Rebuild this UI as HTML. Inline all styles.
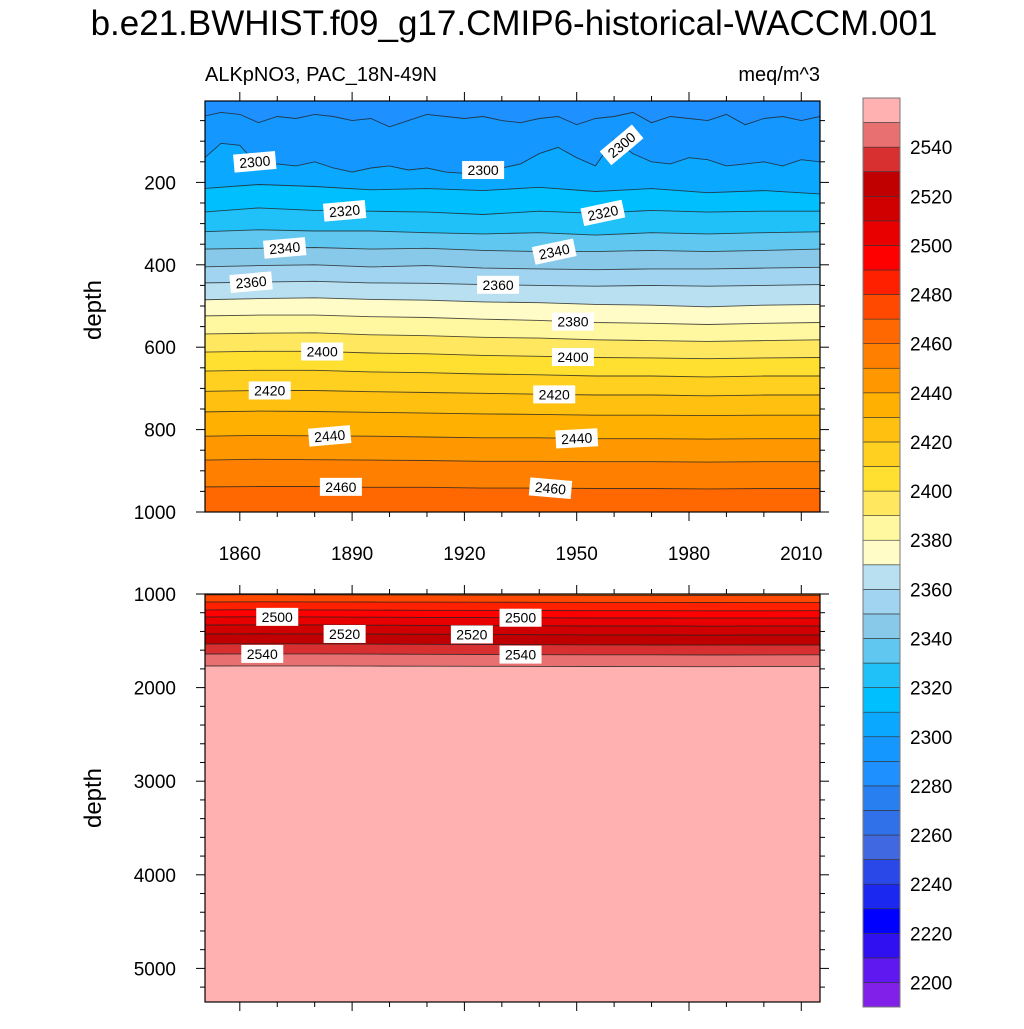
<!DOCTYPE html>
<html><head><meta charset="utf-8"><style>
body{margin:0;background:#fff}
svg text{font-family:"Liberation Sans",sans-serif;fill:#000}
</style></head><body>
<svg id="chart" width="1024" height="1024" viewBox="0 0 1024 1024" xmlns="http://www.w3.org/2000/svg">
<text x="514" y="35" font-size="35" text-anchor="middle">b.e21.BWHIST.f09_g17.CMIP6-historical-WACCM.001</text>
<text x="205" y="81" font-size="20">ALKpNO3, PAC_18N-49N</text>
<text x="820" y="81" font-size="20" text-anchor="end">meq/m^3</text>
<text transform="translate(101,310) rotate(-90)" font-size="24" text-anchor="middle">depth</text>
<text transform="translate(101,798) rotate(-90)" font-size="24" text-anchor="middle">depth</text>
<defs>
<clipPath id="ct"><rect x="205" y="101" width="615" height="411"/></clipPath>
<clipPath id="cb"><rect x="205" y="594" width="615" height="408"/></clipPath>
</defs>
<g id="topPanel"></g>
<g id="botPanel"></g>
<g id="cbar"></g>
</svg>
<script>
// ---- data ----
const levelsCB = [2190,2200,2210,2220,2230,2240,2250,2260,2270,2280,2290,2300,2310,2320,2330,2340,2350,2360,2370,2380,2390,2400,2410,2420,2430,2440,2450,2460,2470,2480,2490,2500,2510,2520,2530,2540,2550,2560];
const bandColors = ["#8020e8","#6018f0","#3010f0","#0000ff","#1a28f0","#2a48e8","#4068e0","#3070e8","#2880f0","#1e90ff","#1498ff","#0aa8ff","#00bfff","#20c0f8","#60c8f0","#88c8e8","#a0d4f0","#b8e0f0","#fffcc8","#fff8a0","#ffe860","#ffe030","#ffd020","#ffc010","#ffb000","#ff9800","#ff8000","#ff6800","#ff4800","#ff2000","#ff0000","#e80000","#d00000","#c00000","#d83030","#e87070","#ffb0b0"];
const cbLabels = [2200,2220,2240,2260,2280,2300,2320,2340,2360,2380,2400,2420,2440,2460,2480,2500,2520,2540];
const yearsFine = [1850,1855,1860,1865,1870,1875,1880,1885,1890,1895,1900,1905,1910,1915,1920,1925,1930,1935,1940,1945,1950,1955,1960,1965,1970,1975,1980,1985,1990,1995,2000,2005,2010,2015];
const yearsCoarse = [1850,1865,1880,1895,1910,1925,1940,1955,1970,1985,2000,2015];
const depth2290 = [40,30,35,55,40,45,35,40,50,45,65,50,35,40,45,40,50,55,45,40,60,45,40,30,55,40,45,50,35,60,45,40,50,40];
const depth2300 = [145,105,110,160,155,160,150,165,175,165,160,170,165,175,178,170,165,155,130,115,140,160,95,130,150,155,140,145,160,155,150,160,145,150];
const depth2310 = [215,205,210,218,215,220,212,222,215,225,220,228];
const depth2320 = [272,262,268,270,272,278,270,275,268,272,270,270];
const depth2330 = [320,315,318,318,322,325,322,328,322,325,322,320];
const depth2340 = [362,360,358,362,360,365,368,368,365,368,365,362];
const depth2350 = [405,402,400,405,402,408,410,412,410,410,408,406];
const depth2360 = [444,442,440,444,445,448,450,452,450,452,450,448];
const depth2370 = [485,482,480,484,486,490,492,496,498,502,498,496];
const depth2380 = [524,522,522,526,528,532,535,540,542,545,542,540];
const depth2390 = [568,566,565,570,572,576,578,582,584,586,584,582];
const depth2400 = [612,610,610,614,616,620,622,625,626,628,626,625];
const depth2410 = [658,656,656,660,662,665,667,670,670,672,670,670];
const depth2420 = [707,705,705,708,710,712,714,716,716,718,716,716];
const depth2430 = [757,755,756,758,760,762,763,765,765,766,765,765];
const depth2440 = [816,814,815,816,818,820,820,822,822,823,822,822];
const depth2450 = [874,872,873,874,875,877,877,878,878,879,878,878];
const depth2460 = [939,938,938,940,940,942,942,943,943,944,943,943];
const depth2470 = [1010,1008,1010,1012,1012,1014,1014,1015,1015,1016,1015,1015];
const depth2480 = [1085,1083,1084,1086,1087,1088,1089,1090,1090,1091,1090,1090];
const depth2490 = [1171,1168,1170,1172,1174,1175,1176,1178,1178,1180,1179,1178];
const depth2500 = [1246,1244,1245,1248,1250,1252,1254,1256,1256,1258,1257,1256];
const depth2510 = [1331,1330,1330,1333,1335,1338,1340,1342,1342,1344,1343,1342];
const depth2520 = [1427,1425,1426,1428,1430,1433,1435,1437,1438,1440,1438,1438];
const depth2530 = [1534,1532,1533,1535,1537,1540,1542,1544,1545,1546,1545,1545];
const depth2540 = [1641,1640,1640,1642,1644,1646,1648,1650,1650,1652,1651,1650];
const depth2550 = [1769,1768,1768,1770,1771,1772,1774,1775,1776,1777,1776,1776];
const topTicks = [200,400,600,800,1000];
const botTicks = [1000,2000,3000,4000,5000];
const xTicks = [1860,1890,1920,1950,1980,2010];
// ---- setup ----
const NS="http://www.w3.org/2000/svg";
function mk(tag,attrs,parent){const e=document.createElementNS(NS,tag);for(const k in attrs)e.setAttribute(k,attrs[k]);parent.appendChild(e);return e;}
const X0=205,X1=820,Y0=1850.7,Y1=2015;
const xs=y=>X0+(y-Y0)/(Y1-Y0)*(X1-X0);
const ysTop=d=>100+d*0.412;
const ysBot=d=>594+(d-1000)*0.0936;
const lines=[
 [2290,yearsFine,depth2290],[2300,yearsFine,depth2300],[2310,yearsCoarse,depth2310],[2320,yearsCoarse,depth2320],
 [2330,yearsCoarse,depth2330],[2340,yearsCoarse,depth2340],[2350,yearsCoarse,depth2350],[2360,yearsCoarse,depth2360],
 [2370,yearsCoarse,depth2370],[2380,yearsCoarse,depth2380],[2390,yearsCoarse,depth2390],[2400,yearsCoarse,depth2400],
 [2410,yearsCoarse,depth2410],[2420,yearsCoarse,depth2420],[2430,yearsCoarse,depth2430],[2440,yearsCoarse,depth2440],
 [2450,yearsCoarse,depth2450],[2460,yearsCoarse,depth2460],[2470,yearsCoarse,depth2470],[2480,yearsCoarse,depth2480],
 [2490,yearsCoarse,depth2490],[2500,yearsCoarse,depth2500],[2510,yearsCoarse,depth2510],[2520,yearsCoarse,depth2520],
 [2530,yearsCoarse,depth2530],[2540,yearsCoarse,depth2540],[2550,yearsCoarse,depth2550]];
const colorAbove=l=>bandColors[levelsCB.indexOf(l)];
function depthAt(yrs,ds,yr){for(let i=0;i<yrs.length-1;i++){if(yr<=yrs[i+1]){const t=(yr-yrs[i])/(yrs[i+1]-yrs[i]);return ds[i]+t*(ds[i+1]-ds[i]);}}return ds[ds.length-1];}
function panel(g,clip,ys,yTop,yBot){
 const cg=mk('g',{'clip-path':'url(#'+clip+')'},g);
 const bg=mk('rect',{x:X0,y:yTop,width:X1-X0,height:yBot-yTop,fill:colorAbove(lines[0][0]-10)},cg);
 
 
 lines.forEach(([lv,yrs,ds])=>{
  const pts=yrs.map((y,i)=>xs(y).toFixed(1)+','+ys(ds[i]).toFixed(1));
  const poly=mk('polygon',{points:pts.join(' ')+' '+xs(yrs[yrs.length-1])+','+(yBot+5)+' '+xs(yrs[0])+','+(yBot+5),fill:colorAbove(lv)},cg);
  
  
 });
 lines.forEach(([lv,yrs,ds])=>{
  const pl=mk('polyline',{points:yrs.map((y,i)=>xs(y).toFixed(1)+','+ys(ds[i]).toFixed(1)).join(' '),fill:'none',stroke:'#222','stroke-width':0.9,'stroke-opacity':0.8},cg);
  
  
 });
 const fr=mk('rect',{x:X0,y:yTop,width:X1-X0,height:yBot-yTop,fill:'none',stroke:'#000','stroke-width':1.2},g);
 
 
 for(let yr=1860;yr<=2010;yr+=10){
  const L=(yr-1860)%30===0?9:5;
  mk('line',{x1:xs(yr),x2:xs(yr),y1:yTop,y2:yTop-L,stroke:'#000'},g);
  mk('line',{x1:xs(yr),x2:xs(yr),y1:yBot,y2:yBot+L,stroke:'#000'},g);
 }
}
function label(g,ys,lv,yr,rot){
 const ln=lines.find(l=>l[0]===lv);const x=xs(yr),y=ys(depthAt(ln[1],ln[2],yr));
 const gg=mk('g',{transform:`translate(${x},${y}) rotate(${rot||0})`},g);
 
 
 mk('rect',{x:-21,y:-9,width:42,height:18,fill:'#fff'},gg);
 const t=mk('text',{x:0,y:5,'font-size':14,'text-anchor':'middle'},gg);t.textContent=lv;
}
const topG=document.getElementById('topPanel');
panel(topG,'ct',ysTop,101,512);
for(let d=50;d<=1000;d+=50){const y=ysTop(d);const L=d%200===0?9:5;
 mk('line',{x1:X0,x2:X0-L,y1:y,y2:y,stroke:'#000'},topG);mk('line',{x1:X1,x2:X1+L,y1:y,y2:y,stroke:'#000'},topG);}
topTicks.forEach(d=>{const t=mk('text',{x:176,y:ysTop(d)+7,'font-size':19,'text-anchor':'end'},topG);t.textContent=d;
 
 });
xTicks.forEach(yr=>{const t=mk('text',{x:xs(yr),y:560,'font-size':19,'text-anchor':'middle'},topG);t.textContent=yr;
 
 });
[[2300,1864,-5],[2300,1925,0],[2300,1962,-40],[2320,1888,-5],[2320,1957,-12],[2340,1872,-5],[2340,1944,-12],[2360,1863,-5],[2360,1929,0],[2380,1949,0],[2400,1882,0],[2400,1949,0],[2420,1868,0],[2420,1944,0],[2440,1884,-5],[2440,1950,-3],[2460,1887,0],[2460,1943,5]].forEach(a=>label(topG,ysTop,a[0],a[1],a[2]));
const botG=document.getElementById('botPanel');
panel(botG,'cb',ysBot,594,1002);
for(let d=1000;d<=5400;d+=200){const y=ysBot(d);if(y>1002)break;const L=d%1000===0?9:5;
 mk('line',{x1:X0,x2:X0-L,y1:y,y2:y,stroke:'#000'},botG);mk('line',{x1:X1,x2:X1+L,y1:y,y2:y,stroke:'#000'},botG);}
botTicks.forEach(d=>{const t=mk('text',{x:176,y:ysBot(d)+7,'font-size':19,'text-anchor':'end'},botG);t.textContent=d;
 
 });
[[2500,1870],[2500,1935],[2520,1888],[2520,1922],[2540,1866],[2540,1935]].forEach(a=>label(botG,ysBot,a[0],a[1],0));
const cbG=document.getElementById('cbar');const cT=98,cB=1007,n=bandColors.length,h=(cB-cT)/n;
bandColors.forEach((c,i)=>{const r=mk('rect',{x:863,y:cB-(i+1)*h,width:37,height:h,fill:c,stroke:'#333','stroke-width':0.6},cbG);
 
 });
mk('rect',{x:863,y:cT,width:37,height:cB-cT,fill:'none',stroke:'#777','stroke-width':1},cbG);
cbLabels.forEach(v=>{const y=cB-(v-2190)/10*h;const t=mk('text',{x:910,y:y+7,'font-size':19},cbG);t.textContent=v;
 
 });
</script>
</body></html>
